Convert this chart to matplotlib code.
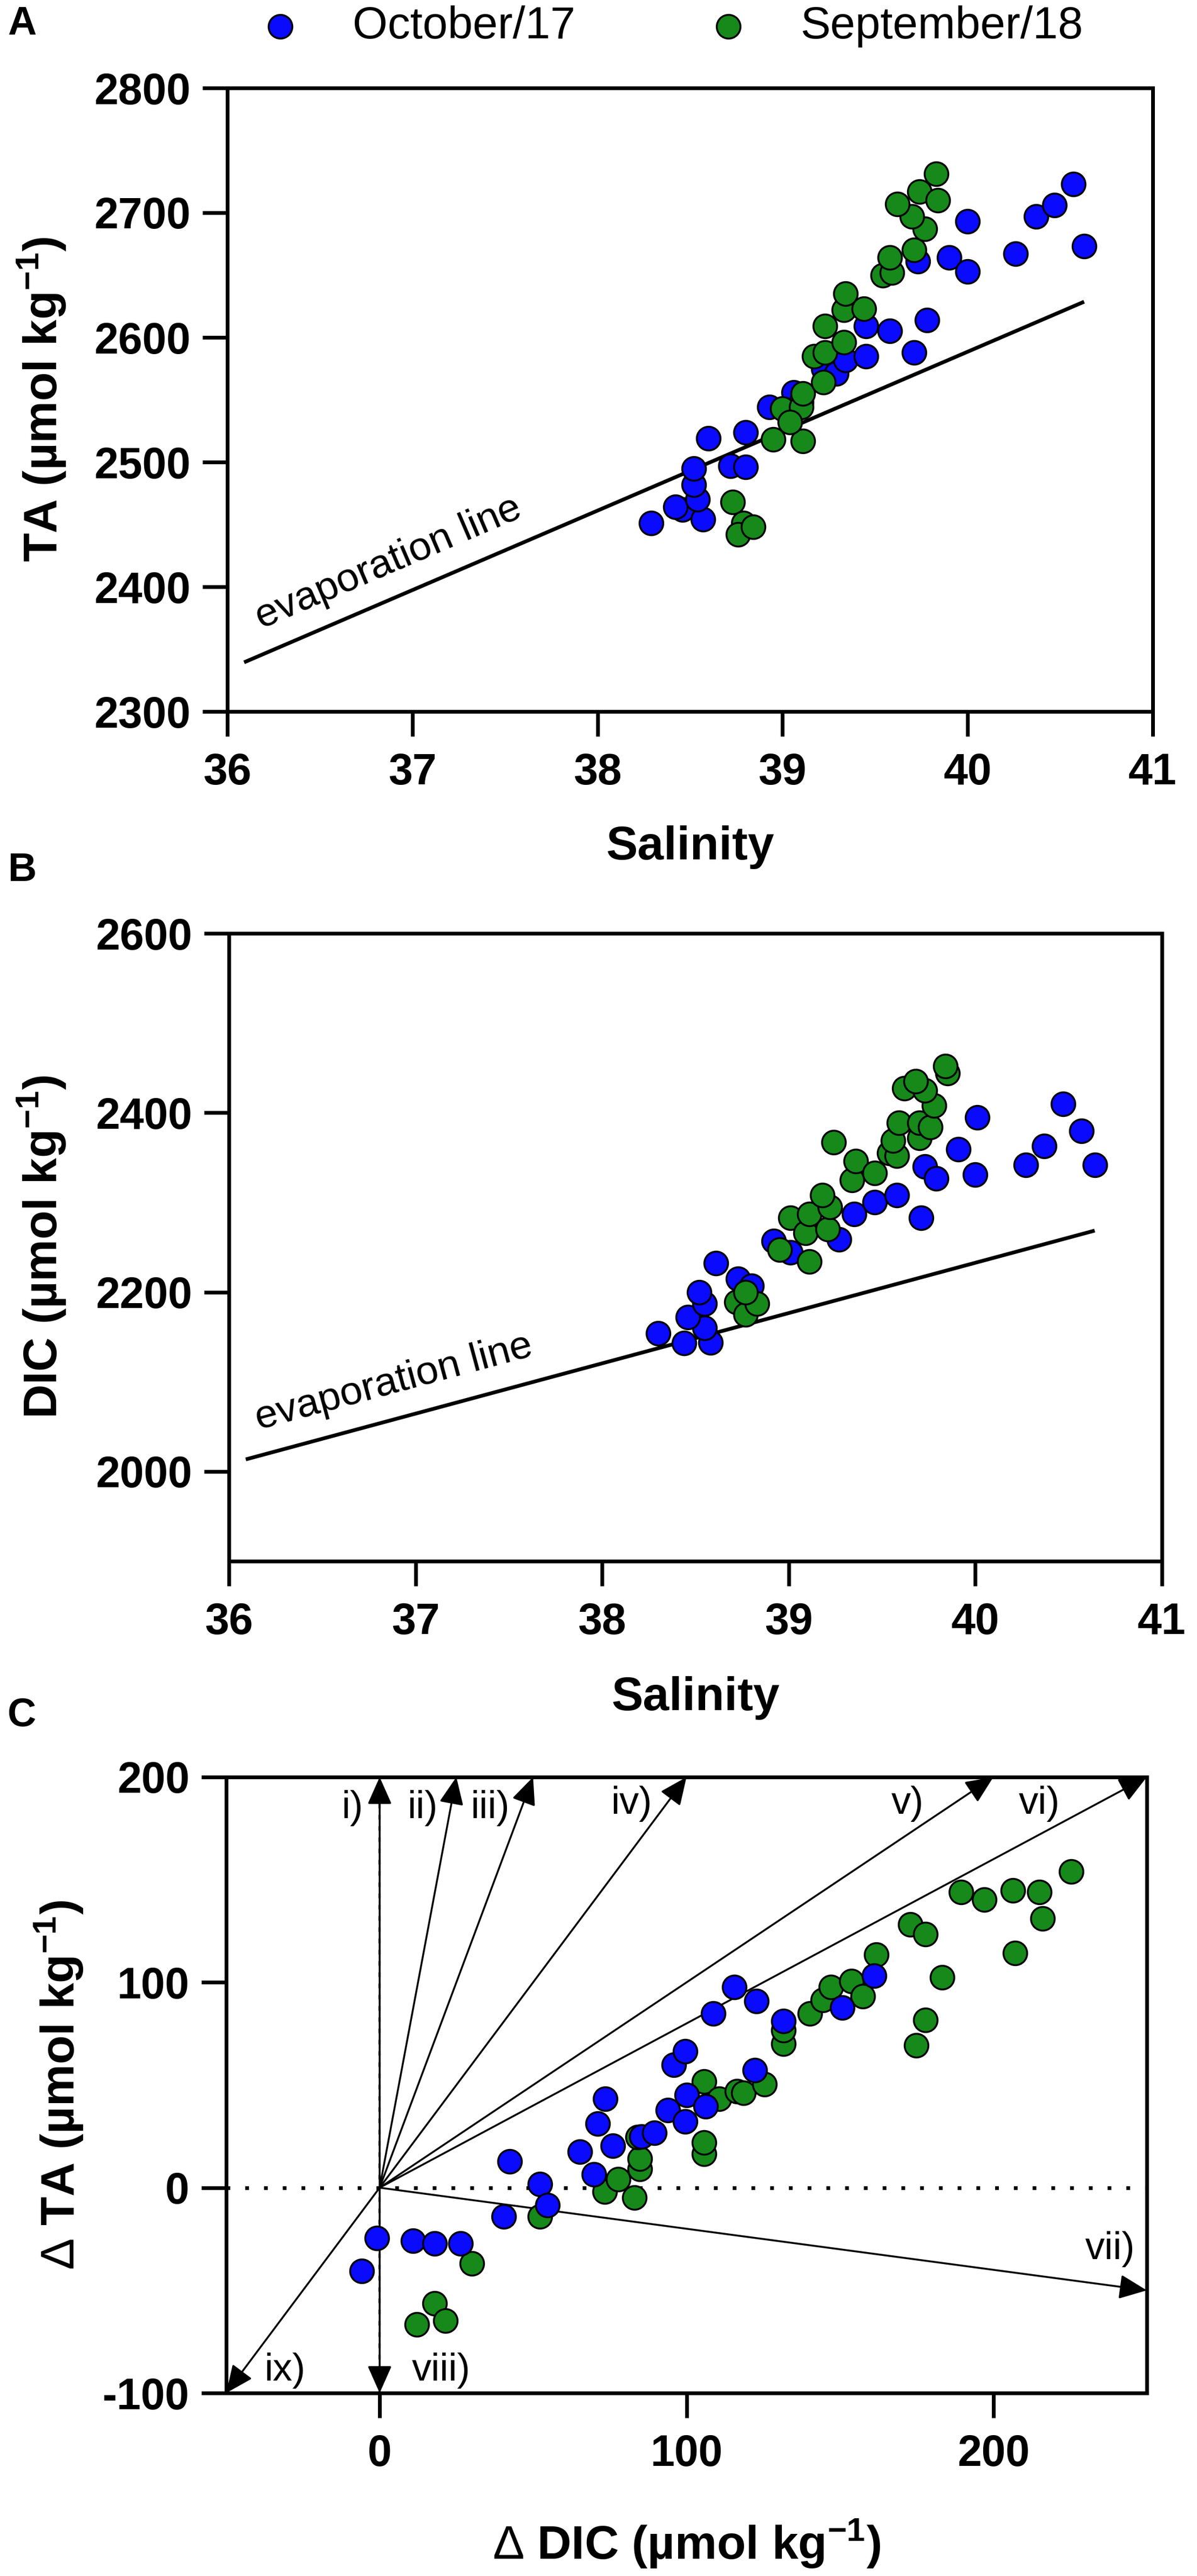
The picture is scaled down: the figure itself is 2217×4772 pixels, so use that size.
import math
import matplotlib
matplotlib.use("Agg")
import matplotlib.pyplot as plt

plt.rcParams['font.family'] = ['Liberation Sans', 'DejaVu Sans']
plt.rcParams['mathtext.fontset'] = 'custom'
plt.rcParams['mathtext.rm'] = 'Liberation Sans'
plt.rcParams['mathtext.bf'] = 'Liberation Sans:bold'
plt.rcParams['axes.unicode_minus'] = False

# --- panel A: TA vs salinity ---
a_oct_sal = [38.29, 38.46, 38.42, 38.57, 38.54, 38.52, 38.52, 38.60, 38.72, 38.80,
             38.80, 38.93, 39.06, 39.10, 39.22, 39.29, 39.34, 39.45, 39.45, 39.58,
             39.71, 39.78, 39.73, 39.90, 40.00, 40.00, 40.26, 40.37, 40.47, 40.57, 40.63]
a_oct_ta = [2451, 2462, 2464, 2454, 2470, 2482, 2495, 2519, 2497, 2496,
            2524, 2544, 2556, 2548, 2575, 2571, 2582, 2585, 2609, 2605,
            2588, 2614, 2661, 2664, 2653, 2693, 2667, 2697, 2706, 2723, 2673]
a_sep_sal = [38.73, 38.79, 38.76, 38.84, 38.95, 39.11, 39.00, 39.10, 39.04, 39.11,
             39.22, 39.17, 39.23, 39.23, 39.33, 39.33, 39.34, 39.44, 39.54, 39.59,
             39.58, 39.71, 39.77, 39.70, 39.62, 39.74, 39.84, 39.83]
a_sep_ta = [2468, 2451, 2442, 2448, 2518, 2517, 2543, 2544, 2532, 2555,
            2564, 2585, 2588, 2609, 2596, 2622, 2635, 2623, 2650, 2652,
            2664, 2670, 2687, 2697, 2707, 2717, 2710, 2731]
evap_a_sal = [36.1, 40.62]
evap_a_ta = [2340, 2628]

# --- panel B: DIC vs salinity ---
b_oct_sal = [38.30, 38.44, 38.58, 38.55, 38.46, 38.55, 38.52, 38.61, 38.73, 38.80,
             38.92, 39.01, 39.27, 39.35, 39.46, 39.58, 39.71, 39.73, 39.79, 39.91,
             40.00, 40.01, 40.27, 40.37, 40.47, 40.57, 40.64]
b_oct_dic = [2154, 2143, 2144, 2160, 2172, 2187, 2200, 2232, 2215, 2207,
             2257, 2244, 2259, 2287, 2300, 2308, 2283, 2340, 2327, 2359,
             2331, 2395, 2342, 2363, 2410, 2380, 2342]
b_sep_sal = [38.72, 38.77, 38.83, 38.77, 38.95, 39.01, 39.11, 39.09, 39.11, 39.21,
             39.22, 39.18, 39.24, 39.34, 39.36, 39.46, 39.54, 39.58, 39.56, 39.59,
             39.70, 39.70, 39.76, 39.78, 39.62, 39.73, 39.68, 39.85, 39.84]
b_sep_dic = [2189, 2175, 2187, 2200, 2247, 2283, 2234, 2266, 2287, 2270,
             2295, 2308, 2367, 2325, 2346, 2333, 2355, 2352, 2369, 2389,
             2372, 2389, 2384, 2408, 2427, 2425, 2435, 2444, 2452]
evap_b_sal = [36.1, 40.63]
evap_b_dic = [2014, 2268]

# --- panel C: delta TA vs delta DIC ---
c_oct_ddic = [-0.9, -5.8, 10.8, 18.0, 26.3, 42.3, 40.5, 52.2, 54.7, 65.2,
              73.6, 71.1, 69.9, 76.0, 85.3, 89.6, 93.9, 99.5, 100.1, 106.3,
              95.8, 99.5, 108.7, 115.5, 122.7, 122.3, 131.6, 150.7, 161.2]
c_oct_dta = [-24.6, -40.7, -25.9, -27.2, -27.2, 12.9, -13.9, 1.8, -8.4, 17.5,
             43.3, 31.3, 6.4, 20.3, 24.9, 26.7, 37.8, 32.3, 45.2, 39.6,
             59.9, 66.4, 84.9, 97.8, 90.8, 57.2, 81.2, 87.6, 103.3]
c_sep_ddic = [30.0, 12.1, 18.0, 21.4, 52.2, 73.4, 77.7, 83.0, 84.8, 84.8,
              84.0, 105.8, 105.8, 105.7, 110.7, 116.5, 118.6, 125.5, 131.6, 131.6,
              140.2, 144.5, 147.0, 153.8, 157.5, 161.8, 172.9, 177.9, 183.4, 177.9,
              174.8, 189.4, 197.0, 206.3, 214.9, 216.1, 207.1, 225.4]
c_sep_dta = [-37.0, -66.6, -56.4, -64.7, -14.0, -1.9, 4.0, -4.7, 9.0, 14.2,
             24.5, 16.5, 22.0, 51.6, 43.3, 47.0, 46.1, 50.4, 70.1, 76.6,
             84.9, 91.3, 97.8, 100.6, 93.2, 113.5, 128.2, 123.6, 102.4, 81.7,
             69.2, 143.9, 140.3, 144.9, 143.9, 131.0, 114.4, 154.1]

# process vectors from the origin
vec_names = ['i)', 'ii)', 'iii)', 'iv)', 'v)', 'vi)', 'vii)', 'viii)', 'ix)']
vec_ddic = [0, 25, 50, 100, 200, 250, 250, 0, -50]
vec_dta = [200, 200, 200, 200, 200, 200, -50, -100, -100]
vec_label_pos = [(-9, 185), (14, 185), (36, 185), (82, 187), (172, 187),
                 (215, 187), (238, -30), (20, -89), (-31, -89)]

BLUE = '#0a0aff'
GREEN = '#16891a'

W, H = 2217, 4772
fig = plt.figure(figsize=(W / 100, H / 100), dpi=100)


def px_axes(l, t, r, b):
    return fig.add_axes([l / W, 1 - b / H, (r - l) / W, (b - t) / H])


def style(ax):
    for s in ax.spines.values():
        s.set_linewidth(5)
    ax.tick_params(direction='out', length=33, width=5, labelsize=58)
    ax.tick_params(axis='x', pad=22)
    ax.tick_params(axis='y', pad=16)
    for lbl in ax.get_xticklabels() + ax.get_yticklabels():
        lbl.set_fontweight('bold')


def evap_text(ax, xs, ys, x0, gap):
    p1 = ax.transData.transform((xs[0], ys[0]))
    p2 = ax.transData.transform((xs[1], ys[1]))
    ang = math.degrees(math.atan2(p2[1] - p1[1], p2[0] - p1[0]))
    slope = (ys[1] - ys[0]) / (xs[1] - xs[0])
    y0 = ys[0] + slope * (x0 - xs[0]) + gap
    ax.text(x0, y0, 'evaporation line', fontsize=54, rotation=ang,
            rotation_mode='anchor', ha='left', va='bottom')


def marks(ax, x, y, c, label=None, z=3):
    return ax.scatter(x, y, s=1000, c=c, edgecolors='black', linewidths=2.5,
                      zorder=z, label=label, clip_on=False)


kw_label = dict(fontsize=63, fontweight='bold', ha='center', va='center')

# panel A
axA = px_axes(421, 163, 2135, 1318)
axA.plot(evap_a_sal, evap_a_ta, color='black', lw=5, zorder=2)
h1 = marks(axA, a_oct_sal, a_oct_ta, BLUE, 'October/17')
h2 = marks(axA, a_sep_sal, a_sep_ta, GREEN, 'September/18', z=4)
axA.set_xlim(36, 41)
axA.set_ylim(2300, 2800)
axA.set_xticks(range(36, 42))
axA.set_yticks(range(2300, 2801, 100))
style(axA)
evap_text(axA, evap_a_sal, evap_a_ta, 36.2, 14)
fig.text(77 / W, 1 - 740 / H, r'TA (µmol kg$^{\mathbf{-1}}$)', rotation=90, **kw_label)
fig.text(1278 / W, 1 - 1569 / H, 'Salinity', **kw_label)

# panel B
axB = px_axes(424, 1729, 2152, 2892)
axB.plot(evap_b_sal, evap_b_dic, color='black', lw=5, zorder=2)
marks(axB, b_oct_sal, b_oct_dic, BLUE)
marks(axB, b_sep_sal, b_sep_dic, GREEN, z=4)
axB.set_xlim(36, 41)
axB.set_ylim(1900, 2600)
axB.set_xticks(range(36, 42))
axB.set_yticks(range(2000, 2601, 200))
style(axB)
evap_text(axB, evap_b_sal, evap_b_dic, 36.17, 20)
fig.text(77 / W, 1 - 2310 / H, r'DIC (µmol kg$^{\mathbf{-1}}$)', rotation=90, **kw_label)
fig.text(1288 / W, 1 - 3145 / H, 'Salinity', **kw_label)

# panel C
axC = px_axes(419, 3292, 2124, 4433)
axC.axhline(0, color='black', lw=5, ls=(0, (1, 4)), zorder=1)
axC.axvline(0, color='black', lw=3, ls=(0, (2, 3)), zorder=1)
for name, dx, dy, lp in zip(vec_names, vec_ddic, vec_dta, vec_label_pos):
    axC.annotate('', xy=(dx, dy), xytext=(0, 0), annotation_clip=False,
                 arrowprops=dict(arrowstyle='-|>,head_length=0.45,head_width=0.2',
                                 mutation_scale=70, lw=2.5, color='black',
                                 shrinkA=0, shrinkB=0))
    axC.text(lp[0], lp[1], name, fontsize=52, ha='center', va='center')
marks(axC, c_sep_ddic, c_sep_dta, GREEN)
marks(axC, c_oct_ddic, c_oct_dta, BLUE, z=4)
axC.set_xlim(-50, 250)
axC.set_ylim(-100, 200)
axC.set_xticks([0, 100, 200])
axC.set_yticks([-100, 0, 100, 200])
style(axC)
fig.text(109 / W, 1 - 3862 / H, r'$\mathrm{\Delta}$ TA (µmol kg$^{\mathbf{-1}}$)',
         rotation=90, **kw_label)
fig.text(1272 / W, 1 - 4712 / H, r'$\mathrm{\Delta}$ DIC (µmol kg$^{\mathbf{-1}}$)',
         **kw_label)

# panel letters
for letter, yc in [('A', 45), ('B', 1612), ('C', 3178)]:
    fig.text(14 / W, 1 - yc / H, letter, fontsize=53, fontweight='bold',
             ha='left', va='center')

fig.legend([h1, h2], ['October/17', 'September/18'], loc='center left',
           bbox_to_anchor=(436 / W, 1 - 49 / H), ncol=2, frameon=False,
           fontsize=60, handlelength=2, handletextpad=0.6, columnspacing=2.4,
           borderpad=0, borderaxespad=0)

fig.savefig('out.png', dpi=100)
